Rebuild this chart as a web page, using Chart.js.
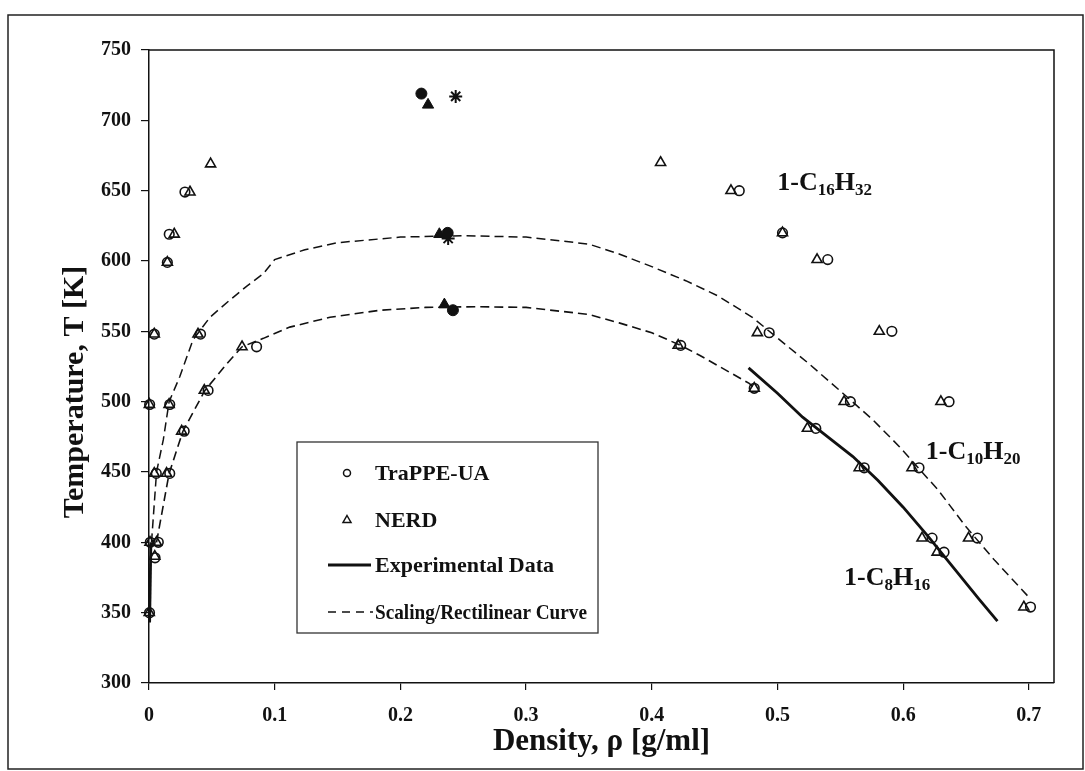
<!DOCTYPE html>
<html><head><meta charset="utf-8">
<script src="https://cdn.jsdelivr.net/npm/chart.js@4.4.1/dist/chart.umd.min.js"></script>
<style>html,body{margin:0;padding:0;background:#fff;}#wrap{width:1085px;height:771px;position:relative;}</style>
</head><body><div id="wrap"><canvas id="c" width="1085" height="771"></canvas></div>
<script>
// ---- tick labels ----
const xTickLabels = ['0','0.1','0.2','0.3','0.4','0.5','0.6','0.7'];
const yTickLabels = ['300','350','400','450','500','550','600','650','700','750'];

// ---- TraPPE-UA (open circles) ----
const trappeC16Rho = [0.0286,0.0161,0.0146,0.0042,0.0005,0.4696,0.504,0.540,0.591,0.6365];
const trappeC16T   = [649,619,599,548,498,650,620,601,550,500];
const trappeC10Rho = [0.041,0.0165,0.0058,0.0010,0.0004,0.4934,0.558,0.6126,0.659,0.7013];
const trappeC10T   = [548,498,449,400,350,549,500,453,403,354];
const trappeC8Rho  = [0.0856,0.047,0.028,0.0165,0.0074,0.0048,0.423,0.4815,0.5305,0.569,0.623,0.6325];
const trappeC8T    = [539,508,479,449,400,389,540,509.5,481,453,403,393];

// ---- NERD (open triangles) ----
const nerdC16Rho = [0.049,0.0326,0.0201,0.0146,0.0042,0.0003,0.407,0.463,0.504,0.5315,0.581,0.630];
const nerdC16T   = [669,649,619,599,548,498,670,650,620,601,550,500];
const nerdC10Rho = [0.039,0.016,0.0042,0.0008,0.0002,0.484,0.553,0.607,0.652,0.696];
const nerdC10T   = [548,498,449,400,350,549,500,453,403,354];
const nerdC8Rho  = [0.074,0.044,0.026,0.014,0.006,0.0046,0.421,0.4815,0.5238,0.565,0.615,0.627];
const nerdC8T    = [539,508,479,449,400,390,540,509.5,481,453,403,393];

// ---- critical points ----
const critTrappeRho = [0.2167,0.2376,0.2418];
const critTrappeT   = [719,620,565];
const critNerdRho   = [0.222,0.231,0.235];
const critNerdT     = [711,619,569];
const critExpRho    = [0.244,0.238];
const critExpT      = [717,616];

// ---- scaling / rectilinear curves ----
const curveC10Rho = [0.002,0.006,0.0114,0.016,0.0246,0.035,0.0485,0.064,0.0776,0.091,0.1,0.124,0.15,0.2,0.25,0.3,0.35,0.374,0.4,0.427,0.453,0.48,0.499,0.525,0.552,0.576,0.597,0.628,0.65,0.673,0.70];
const curveC10T   = [400,450,473,500,518,544,560,572,582,591,601,608,613,617,618,617,612,605,596,586,575,560,546,527,506,487,468,437,411,387,361];
const curveC8Rho  = [0.006,0.016,0.027,0.0445,0.062,0.074,0.091,0.112,0.144,0.184,0.22,0.26,0.3,0.35,0.374,0.40,0.423,0.438,0.4775,0.4815];
const curveC8T    = [400,449,479,508,527,539,545,553,560,565,567,567.5,567,562,556,549,540,533,513,510];

// ---- experimental data (1-C8H16) ----
const expLiqRho = [0.477,0.50,0.52,0.54,0.56,0.58,0.60,0.62,0.64,0.66,0.675];
const expLiqT   = [524,506,489,475,461,444,425,404,382,360,344];
const expVapRho = [0.0015,0.0005];
const expVapT   = [400,343];

// ---- text ----
const legendLabels = ['TraPPE-UA','NERD','Experimental Data','Scaling/Rectilinear Curve'];
const compoundLabels = [
  {parts:[['1-C',0],['16',1],['H',0],['32',1]], rho:0.4998, T:650.5},
  {parts:[['1-C',0],['10',1],['H',0],['20',1]], rho:0.618, T:459},
  {parts:[['1-C',0],['8',1],['H',0],['16',1]], rho:0.553, T:370}
];

const zip = (xs, ys) => xs.map((x, i) => ({x: x, y: ys[i]}));
const FONT = '"Liberation Serif", "Times New Roman", serif';
const INK = '#111';

const decor = {
  id: 'decor',
  beforeDraw(chart) {
    const ctx = chart.ctx;
    ctx.save(); ctx.fillStyle = '#fff'; ctx.fillRect(0, 0, chart.width, chart.height); ctx.restore();
  },
  afterDraw(chart) {
    const {ctx, chartArea: a, scales} = chart;
    ctx.save();
    // plot frame top/right
    ctx.strokeStyle = INK; ctx.lineWidth = 1.5;
    ctx.beginPath(); ctx.moveTo(a.left, a.top); ctx.lineTo(a.right, a.top); ctx.lineTo(a.right, a.bottom); ctx.stroke();
    // outer border
    ctx.strokeStyle = '#222'; ctx.lineWidth = 1.5;
    ctx.strokeRect(8, 15, 1075, 754);
    // y title
    ctx.save();
    ctx.translate(75, 392); ctx.rotate(-Math.PI / 2);
    ctx.fillStyle = INK; ctx.font = 'bold 30px ' + FONT; ctx.textAlign = 'center'; ctx.textBaseline = 'middle';
    ctx.fillText('Temperature, T [K]', 0, 0);
    ctx.restore();
    // compound labels
    ctx.fillStyle = INK; ctx.textBaseline = 'alphabetic'; ctx.textAlign = 'left';
    compoundLabels.forEach(lb => {
      let x = scales.x.getPixelForValue(lb.rho);
      const y = scales.y.getPixelForValue(lb.T);
      lb.parts.forEach(([t, sub]) => {
        ctx.font = 'bold ' + (sub ? 17 : 26) + 'px ' + FONT;
        ctx.fillText(t, x, sub ? y + 5 : y);
        x += ctx.measureText(t).width;
      });
    });
    // legend box
    const lx = a.left + 148, ly = a.top + 392, lw = 301, lh = 191;
    ctx.fillStyle = '#fff'; ctx.fillRect(lx, ly, lw, lh);
    ctx.strokeStyle = '#333'; ctx.lineWidth = 1.3; ctx.strokeRect(lx, ly, lw, lh);
    const rows = [31, 78, 123, 170].map(d => ly + d);
    const mx = lx + 50;
    ctx.strokeStyle = INK; ctx.lineWidth = 1.5;
    ctx.beginPath(); ctx.arc(mx, rows[0], 3.5, 0, Math.PI * 2); ctx.stroke();
    ctx.beginPath(); ctx.moveTo(mx, rows[1] - 4.5); ctx.lineTo(mx + 4, rows[1] + 2.5); ctx.lineTo(mx - 4, rows[1] + 2.5); ctx.closePath(); ctx.stroke();
    ctx.lineWidth = 2.8; ctx.beginPath(); ctx.moveTo(lx + 31, rows[2]); ctx.lineTo(lx + 74, rows[2]); ctx.stroke();
    ctx.lineWidth = 1.5; ctx.setLineDash([8, 6]); ctx.beginPath(); ctx.moveTo(lx + 31, rows[3]); ctx.lineTo(lx + 76, rows[3]); ctx.stroke(); ctx.setLineDash([]);
    ctx.fillStyle = INK; ctx.font = 'bold 22px ' + FONT; ctx.textAlign = 'left'; ctx.textBaseline = 'middle';
    legendLabels.forEach((t, i) => ctx.fillText(t, lx + 78, rows[i] + 1, 212));
    ctx.restore();
  }
};

const markerBase = {showLine: false, borderColor: INK, clip: false};
const curveBase = {showLine: true, pointRadius: 0, borderColor: INK, backgroundColor: INK, tension: 0, clip: false, fill: false};

new Chart(document.getElementById('c'), {
  type: 'scatter',
  data: {
    datasets: [
      Object.assign({label: 'Crit TraPPE', data: zip(critTrappeRho, critTrappeT), pointStyle: 'circle', pointRadius: 5.5, backgroundColor: INK, borderWidth: 1}, markerBase),
      Object.assign({label: 'Crit NERD', data: zip(critNerdRho, critNerdT), pointStyle: 'triangle', pointRadius: 6.5, backgroundColor: INK, borderWidth: 1}, markerBase),
      Object.assign({label: 'Crit Exp', data: zip(critExpRho, critExpT), pointStyle: 'star', pointRadius: 6.5, backgroundColor: INK, borderWidth: 2}, markerBase),
      Object.assign({label: 'TraPPE-UA', data: zip(trappeC16Rho, trappeC16T).concat(zip(trappeC10Rho, trappeC10T), zip(trappeC8Rho, trappeC8T)), pointStyle: 'circle', pointRadius: 4.8, backgroundColor: 'rgba(0,0,0,0)', borderWidth: 1.6}, markerBase),
      Object.assign({label: 'NERD', data: zip(nerdC16Rho, nerdC16T).concat(zip(nerdC10Rho, nerdC10T), zip(nerdC8Rho, nerdC8T)), pointStyle: 'triangle', pointRadius: 5.8, backgroundColor: 'rgba(0,0,0,0)', borderWidth: 1.6}, markerBase),
      Object.assign({label: 'Exp liquid', data: zip(expLiqRho, expLiqT), borderWidth: 2.8}, curveBase),
      Object.assign({label: 'Exp vapor', data: zip(expVapRho, expVapT), borderWidth: 2.8}, curveBase),
      Object.assign({label: 'Scaling C10', data: zip(curveC10Rho, curveC10T), borderWidth: 1.5, borderDash: [9, 5]}, curveBase),
      Object.assign({label: 'Scaling C8', data: zip(curveC8Rho, curveC8T), borderWidth: 1.6, borderDash: [9, 5]}, curveBase)
    ]
  },
  options: {
    responsive: false, animation: false, devicePixelRatio: 1, events: [],
    layout: {padding: {left: 0, top: 50, right: 31, bottom: 0}},
    plugins: {legend: {display: false}, tooltip: {enabled: false}},
    scales: {
      x: {
        type: 'linear', position: 'bottom', min: 0, max: 0.72,
        afterFit(s) { s.height = 88; },
        ticks: {stepSize: 0.1, includeBounds: false, autoSkip: false, maxRotation: 0, padding: 14, color: INK,
          font: {family: FONT, size: 20, weight: 'bold'},
          callback(v) { const i = Math.round(v * 10); return Math.abs(v - i / 10) < 1e-6 && xTickLabels[i] !== undefined ? xTickLabels[i] : ''; }},
        grid: {drawOnChartArea: false, drawTicks: true, tickLength: 7, color: INK, lineWidth: 1.2},
        border: {display: true, color: INK, width: 1.5},
        title: {display: true, text: 'Density, ρ [g/ml]', color: INK, font: {family: FONT, size: 31, weight: 'bold'}, padding: {top: 0, bottom: 10}}
      },
      y: {
        type: 'linear', position: 'left', min: 300, max: 750,
        afterFit(s) { s.width = 149; },
        ticks: {stepSize: 50, autoSkip: false, padding: 10, color: INK,
          font: {family: FONT, size: 20, weight: 'bold'},
          callback(v) { const i = Math.round((v - 300) / 50); return yTickLabels[i] !== undefined ? yTickLabels[i] : ''; }},
        grid: {drawOnChartArea: false, drawTicks: true, tickLength: 8, color: INK, lineWidth: 1.2},
        border: {display: true, color: INK, width: 1.5}
      }
    }
  },
  plugins: [decor]
});
</script></body></html>
